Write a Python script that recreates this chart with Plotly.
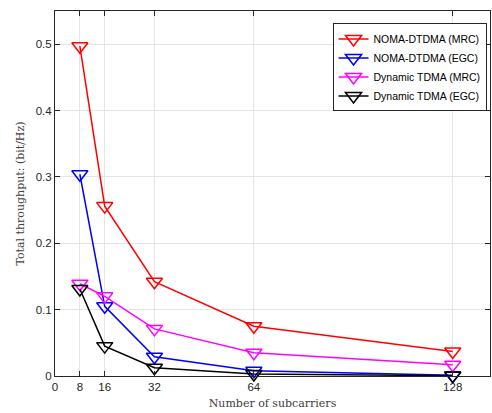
import plotly.graph_objects as go

subcarriers = [8, 16, 32, 64, 128]
noma_mrc = [0.497, 0.256, 0.142, 0.075, 0.037]
noma_egc = [0.304, 0.105, 0.029, 0.008, 0.001]
tdma_mrc = [0.139, 0.120, 0.071, 0.035, 0.017]
tdma_egc = [0.131, 0.045, 0.0125, 0.003, 0.0005]
names = ["NOMA-DTDMA (MRC)", "NOMA-DTDMA (EGC)", "Dynamic TDMA (MRC)", "Dynamic TDMA (EGC)"]
colors = ["#ff0000", "#0000ff", "#ff00ff", "#000000"]
xticks = [0, 8, 16, 32, 64, 128]
yticks = [0, 0.1, 0.2, 0.3, 0.4, 0.5]

fig = go.Figure()
for name, ys, c in zip(names, [noma_mrc, noma_egc, tdma_mrc, tdma_egc], colors):
    fig.add_trace(go.Scatter(
        x=subcarriers, y=ys, name=name, mode="lines+markers",
        line=dict(color=c, width=1.5),
        marker=dict(symbol="triangle-down-open", size=14, color=c, line=dict(width=1.5, color=c)),
        cliponaxis=False,
    ))

axis_common = dict(
    showline=True, linecolor="#262626", linewidth=1, mirror="ticks",
    ticks="inside", ticklen=5, tickcolor="#262626",
    showgrid=True, gridcolor="#e5e5e5", gridwidth=1, zeroline=False,
    tickfont=dict(family="Liberation Sans, Arial", size=11.5, color="#262626"),
)
fig.update_xaxes(range=[0, 140], tickvals=xticks, ticktext=[str(v) for v in xticks],
                 title=dict(text="Number of subcarriers", standoff=7,
                            font=dict(family="DejaVu Serif, Liberation Serif", size=11, color="#404040")),
                 **axis_common)
fig.update_yaxes(range=[0, 0.55], tickvals=yticks, ticktext=["0", "0.1", "0.2", "0.3", "0.4", "0.5"],
                 title=dict(text="Total throughput: (bit/Hz)", standoff=8,
                            font=dict(family="DejaVu Serif, Liberation Serif", size=11, color="#404040")),
                 **axis_common)
fig.update_layout(
    width=492, height=413,
    margin=dict(l=55, r=2, t=11, b=37),
    plot_bgcolor="white", paper_bgcolor="white",
    legend=dict(x=0.638, y=0.966, xanchor="left", yanchor="top",
                bgcolor="white", bordercolor="#262626", borderwidth=1,
                font=dict(family="Liberation Sans, Arial", size=10.5, color="#000000"),
                itemwidth=30, tracegroupgap=0),
    showlegend=True,
)
fig.write_html("out.html")
